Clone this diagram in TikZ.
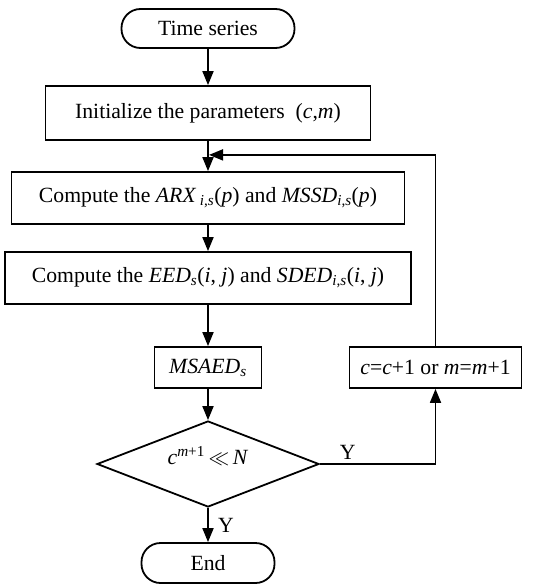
\documentclass[tikz,border=0pt]{standalone}
\usepackage{fontspec}
\setmainfont{Liberation Serif}
\usetikzlibrary{positioning}
\usetikzlibrary{shapes.geometric}
\usetikzlibrary{arrows.meta}

\tikzset{
  box/.style={draw, line width=1.8pt, inner sep=0pt, minimum height=52pt},
  term/.style={draw, line width=1.8pt, inner sep=0pt, rounded corners=19pt, minimum height=39pt},
  decide/.style={draw, diamond, line width=1.8pt, inner sep=0pt, minimum width=222pt, minimum height=86pt},
  flow/.style={line width=1.8pt, -{Triangle[length=14pt,width=11pt]}}
}

\begin{document}
\begin{tikzpicture}[x=1pt, y=1pt, font=\fontsize{21.7}{26}\selectfont, node distance=30pt]
  \useasboundingbox (0,0) rectangle (544,-585);

  \node[term, minimum width=173pt] (start) at (208,-28.5) {Time series};
  \node[box, minimum width=325pt, minimum height=54pt, below=36.2pt of start] (init) {Initialize the parameters~~(\textit{c},\textit{m})};
  \node[box, minimum width=393pt, below=30.2pt of init] (arx) {Compute the \textit{ARX}\,\textsubscript{\textit{i},\textit{s}}(\textit{p}) and \textit{MSSD}\textsubscript{\textit{i},\textit{s}}(\textit{p})};
  \node[box, minimum width=406pt, below=26.2pt of arx] (eed) {Compute the \textit{EED}\textsubscript{\textit{s}}(\textit{i}, \textit{j}) and \textit{SDED}\textsubscript{\textit{i},\textit{s}}(\textit{i}, \textit{j})};
  \node[box, minimum width=107pt, minimum height=41pt, below=41.2pt of eed] (msaed) {\textit{MSAED}\textsubscript{\textit{s}}};
  \node[box, minimum width=172pt, minimum height=41pt, right=86.2pt of msaed] (incr) {\textit{c}=\textit{c}+1 or \textit{m}=\textit{m}+1};
  \node[decide, below=31.2pt of msaed] (check) {\smash{\makebox[0pt]{\textit{c}\textsuperscript{\textit{m}+1}\,$\ll$\,\textit{N}}}};
  \node[term, minimum width=133pt, minimum height=40pt, below=34.2pt of check] (stop) {End};

  \coordinate[below=14pt of init] (join);

  \draw[flow] (start) -- (init);
  \draw[flow] (init) -- (arx);
  \draw[flow] (arx) -- (eed);
  \draw[flow] (eed) -- (msaed);
  \draw[flow] (msaed) -- (check);
  \draw[flow] (check) -- node[right, xshift=6pt]{Y} (stop);
  \draw[flow] (check.east) -| node[pos=0.12, above]{Y} (incr.south);
  \draw[flow] (incr.north) |- ([xshift=1pt]join);
\end{tikzpicture}
\end{document}
